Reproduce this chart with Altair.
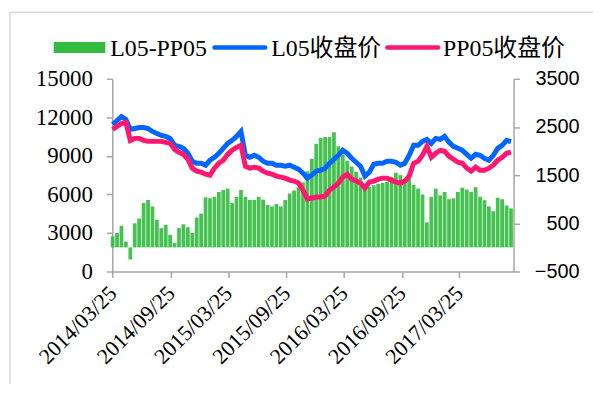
import altair as alt
import pandas as pd

# ---- data (biweekly samples) ----
start_date = "2014-03-25"
n_points = 91

l05 = [11443, 11753, 12062, 11830, 11057, 11134, 11211, 11211, 11134, 10902,
       10748, 10593, 10516, 10361, 9820, 9742, 9588, 9201, 8583, 8428,
       8428, 8273, 8660, 8892, 9201, 9588, 9974, 10206, 10516, 10902,
       9046, 8892, 9046, 8892, 8583, 8428, 8428, 8273, 8273, 8196,
       8273, 8119, 7964, 7655, 7268, 7500, 7809, 7887, 8041, 8428,
       8737, 9046, 9433, 9201, 8814, 8505, 8196, 7423, 7732, 8351,
       8428, 8428, 8583, 8583, 8505, 8273, 8428, 9046, 9820, 9820,
       10129, 10284, 9974, 10361, 10284, 10516, 10052, 9742, 9588, 9433,
       9124, 8814, 9124, 9046, 8814, 8660, 9046, 9588, 9820, 10206,
       10100]

pp05 = [11057, 11289, 11521, 11598, 10200, 10361, 10361, 10206, 10129, 10129,
        10129, 10129, 10052, 9974, 9510, 9278, 9124, 8737, 8041, 7809,
        7732, 7577, 7500, 8041, 8428, 8660, 9124, 9433, 9665, 9820,
        8196, 8041, 8119, 8041, 7809, 7655, 7577, 7423, 7345, 7268,
        7113, 7036, 6881, 6340, 5644, 5722, 5799, 5799, 5876, 6340,
        6572, 6881, 7345, 7577, 7191, 7036, 6881, 6495, 6959, 7036,
        7191, 7268, 7268, 7113, 6959, 6881, 7036, 7423, 8428, 8583,
        9046, 9742, 8892, 9201, 9433, 9356, 8969, 8737, 8505, 8428,
        8041, 7809, 8119, 7887, 7887, 8041, 8273, 8660, 8892, 9201,
        9300]

spread = [230, 300, 450, 120, -250, 500, 600, 920, 985, 850,
          570, 400, 470, 260, 90, 400, 480, 420, 300, 620,
          700, 1040, 1020, 1050, 1150, 1190, 1220, 920, 1050, 1190,
          1050, 985, 985, 1050, 990, 880, 850, 900, 850, 985,
          1120, 1180, 1250, 1350, 1580, 1840, 2150, 2270, 2290, 2290,
          2390, 2100, 1920, 1800, 1680, 1570, 1450, 1290, 1260, 1290,
          1320, 1340, 1360, 1460, 1550, 1500, 1400, 1430, 1300, 1220,
          1100, 520, 1050, 1220, 1080, 1150, 1000, 1020, 1150, 1240,
          1200, 1150, 1250, 1050, 980, 850, 750, 1030, 1000, 870,
          810]

legend_labels = ["L05-PP05", "L05收盘价", "PP05收盘价"]
left_ticks = [0, 3000, 6000, 9000, 12000, 15000]
right_ticks = [-500, 500, 1500, 2500, 3500]
x_tick_dates = [(2014, 3, 25), (2014, 9, 25), (2015, 3, 25), (2015, 9, 25),
                (2016, 3, 25), (2016, 9, 25), (2017, 3, 25)]

GREEN = "#33bb3f"
BLUE = "#0066ff"
PINK = "#ff1770"
AXIS_GREY = "#a6a6a6"

dates = pd.date_range(start_date, periods=n_points, freq="14D").strftime("%Y-%m-%d").tolist()
df = pd.DataFrame({"date": dates, "L05": l05, "PP05": pp05, "spread": spread})

x_enc = alt.X(
    "date:T",
    title=None,
    scale=alt.Scale(
        type="utc",
        domain=[alt.DateTime(year=2014, month=3, date=24, utc=True),
                alt.DateTime(year=2017, month=9, date=13, utc=True)],
        nice=False,
        padding=0,
    ),
    axis=alt.Axis(
        values=[alt.DateTime(year=y, month=m, date=d, utc=True) for (y, m, d) in x_tick_dates],
        labelExpr="utcFormat(datum.value, '%Y/%m/%d')",
        labelAngle=-45,
        labelAlign="right",
        labelBaseline="middle",
        labelPadding=12,
        labelFlush=False,
        labelOverlap=False,
        labelBound=False,
        labelFont="Liberation Serif",
        labelFontSize=22,
        labelColor="#000000",
        tickSize=6,
        tickColor=AXIS_GREY,
        domainColor=AXIS_GREY,
        domainWidth=1.5,
        tickWidth=1.5,
        grid=False,
    ),
)

bars = alt.Chart(df).mark_bar(size=3.8, color=GREEN, opacity=0.9).encode(
    x=x_enc,
    y=alt.Y(
        "spread:Q",
        title=None,
        scale=alt.Scale(domain=[-500, 3500], nice=False, zero=False),
        axis=alt.Axis(
            orient="right",
            values=right_ticks,
            format="d",
            labelAlign="right",
            labelPadding=60,
            labelFont="Liberation Sans",
            labelFontSize=20,
            labelColor="#000000",
            tickSize=6,
            tickColor=AXIS_GREY,
            domainColor=AXIS_GREY,
            domainWidth=1.5,
            tickWidth=1.5,
            grid=False,
        ),
    ),
)

lines = alt.Chart(df).transform_fold(["L05", "PP05"], as_=["series", "price"]).mark_line(
    strokeWidth=5, interpolate="linear"
).encode(
    x=x_enc,
    y=alt.Y(
        "price:Q",
        title=None,
        scale=alt.Scale(domain=[0, 15000], nice=False),
        axis=alt.Axis(
            orient="left",
            values=left_ticks,
            format="d",
            labelPadding=14,
            labelFont="Liberation Serif",
            labelFontSize=23,
            labelColor="#000000",
            tickSize=6,
            tickColor=AXIS_GREY,
            domainColor=AXIS_GREY,
            domainWidth=1.5,
            tickWidth=1.5,
            grid=False,
        ),
    ),
    color=alt.Color("series:N", scale=alt.Scale(domain=["L05", "PP05"], range=[BLUE, PINK]), legend=None),
    detail="series:N",
)

dummy = pd.DataFrame({"k": [0]})
LEG_FONT = "Liberation Serif, Noto Sans CJK SC"

frame_left = alt.Chart(dummy).mark_rule(color="#d9d9d9", strokeWidth=1.5).encode(
    x=alt.value(-103), y=alt.value(-67), y2=alt.value(310))
frame_top = alt.Chart(dummy).mark_rule(color="#d9d9d9", strokeWidth=1.5).encode(
    x=alt.value(-103), x2=alt.value(490), y=alt.value(-67))

leg_rect = alt.Chart(dummy).mark_rect(color=GREEN).encode(
    x=alt.value(-59), x2=alt.value(-7), y=alt.value(-37), y2=alt.value(-26))
leg_blue = alt.Chart(dummy).mark_rule(color=BLUE, strokeWidth=4.5, strokeCap="round").encode(
    x=alt.value(103), x2=alt.value(154), y=alt.value(-31.5))
leg_pink = alt.Chart(dummy).mark_rule(color=PINK, strokeWidth=4.5, strokeCap="round").encode(
    x=alt.value(277), x2=alt.value(328), y=alt.value(-31.5))

def leg_text(label, xpos):
    return alt.Chart(dummy).mark_text(
        text=label, align="left", baseline="alphabetic", font=LEG_FONT, fontSize=24, color="#000000"
    ).encode(x=alt.value(xpos), y=alt.value(-23))

t1 = leg_text(legend_labels[0], -2)
t2 = leg_text(legend_labels[1], 160)
t3 = leg_text(legend_labels[2], 333)

chart = alt.layer(
    frame_left, frame_top, bars, lines, leg_rect, leg_blue, leg_pink, t1, t2, t3
).resolve_scale(y="independent").properties(
    width=404,
    height=194,
    autosize=alt.AutoSizeParams(type="none"),
    padding={"left": 105, "top": 70, "right": 80, "bottom": 112},
    background="white",
).configure_view(stroke=None)

chart.save("out.html", embed_options={"renderer": "svg", "actions": False})
